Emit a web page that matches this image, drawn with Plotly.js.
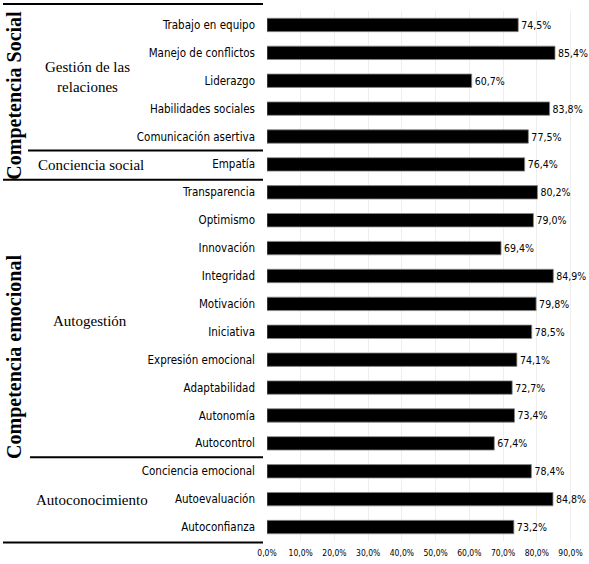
<!DOCTYPE html>
<html>
<head>
<meta charset="utf-8">
<script src="https://cdn.plot.ly/plotly-3.0.1.min.js"></script>
<style>html,body{margin:0;padding:0;background:#fff;}#chart{width:589px;height:564px;}</style>
</head>
<body>
<div id="chart"></div>
<script>
const categories = ["Trabajo en equipo","Manejo de conflictos","Liderazgo","Habilidades sociales","Comunicación asertiva","Empatía","Transparencia","Optimismo","Innovación","Integridad","Motivación","Iniciativa","Expresión emocional","Adaptabilidad","Autonomía","Autocontrol","Conciencia emocional","Autoevaluación","Autoconfianza"];
const values = [74.5,85.4,60.7,83.8,77.5,76.4,80.2,79.0,69.4,84.9,79.8,78.5,74.1,72.7,73.4,67.4,78.4,84.8,73.2];
const tickValues = [0,10,20,30,40,50,60,70,80,90];
const tickLabels = tickValues.map(v => v.toFixed(1).replace('.', ',') + '%');
const valueLabels = values.map(v => v.toFixed(1).replace('.', ',') + '%');

const narrow = '"Liberation Sans Narrow", "DejaVu Sans Condensed", Arial, sans-serif';
const serif = '"Liberation Serif", "Times New Roman", serif';

const trace = {
  type: 'bar', orientation: 'h',
  y: categories, x: values,
  text: valueLabels, textposition: 'outside', cliponaxis: false,
  textfont: {family: narrow, size: 10.5, color: '#000'},
  marker: {color: '#000', line: {color: '#888', width: 0.8}},
  hoverinfo: 'none'
};

const L = 267, W = 317;
const px = p => (p - L) / W;
const N = categories.length;
const cy = i => 1 - (i + 0.5) / N;   // category position -> paper y

const shapes = [
  {x0: px(3), x1: px(263), y: cy(-0.75)},
  {x0: px(28), x1: px(263), y: cy(4.5)},
  {x0: px(3), x1: px(263), y: cy(5.55)},
  {x0: px(30), x1: px(263), y: cy(15.5)},
  {x0: px(3), x1: px(263), y: cy(18.55)}
].map(s => ({type: 'line', xref: 'paper', yref: 'paper', x0: s.x0, x1: s.x1, y0: s.y, y1: s.y, line: {color: '#000', width: 2}}));

const annotations = [
  {text: '<b>Competencia Social</b>', x: px(15), y: cy(2.5), textangle: -90, size: 20},
  {text: '<b>Competencia emocional</b>', x: px(15), y: cy(11.9), textangle: -90, size: 20},
  {text: 'Gestión de las<br>relaciones', x: px(87), y: cy(1.85), textangle: 0, size: 15},
  {text: 'Conciencia social', x: px(91), y: cy(5.02), textangle: 0, size: 15},
  {text: 'Autogestión', x: px(90), y: cy(10.6), textangle: 0, size: 15},
  {text: 'Autoconocimiento', x: px(92), y: cy(17.02), textangle: 0, size: 15}
].map(a => ({xref: 'paper', yref: 'paper', x: a.x, y: a.y, text: a.text, textangle: a.textangle, showarrow: false, xanchor: 'center', yanchor: 'middle', font: {family: serif, size: a.size, color: '#000'}}));

const layout = {
  width: 589, height: 564,
  margin: {l: 267, r: 5, t: 11, b: 23, pad: 0},
  paper_bgcolor: '#fff', plot_bgcolor: '#fff',
  separators: ',.',
  bargap: 0.52,
  showlegend: false,
  xaxis: {
    range: [0, 94], tickvals: tickValues, ticktext: tickLabels,
    automargin: false, ticklabelstandoff: 5,
    showgrid: true, gridcolor: '#eeeeee', gridwidth: 1,
    zeroline: false, showline: false, ticks: '',
    tickfont: {family: narrow, size: 8.5, color: '#000'}, fixedrange: true
  },
  yaxis: {
    type: 'category', range: [N - 0.5, -0.5], automargin: false,
    showgrid: false, zeroline: false, showline: false, ticks: '',
    ticklabelstandoff: 11,
    tickfont: {family: narrow, size: 11.5, color: '#000'}, fixedrange: true
  },
  shapes: shapes,
  annotations: annotations
};

Plotly.newPlot('chart', [trace], layout, {displayModeBar: false, staticPlot: true});
</script>
</body>
</html>
